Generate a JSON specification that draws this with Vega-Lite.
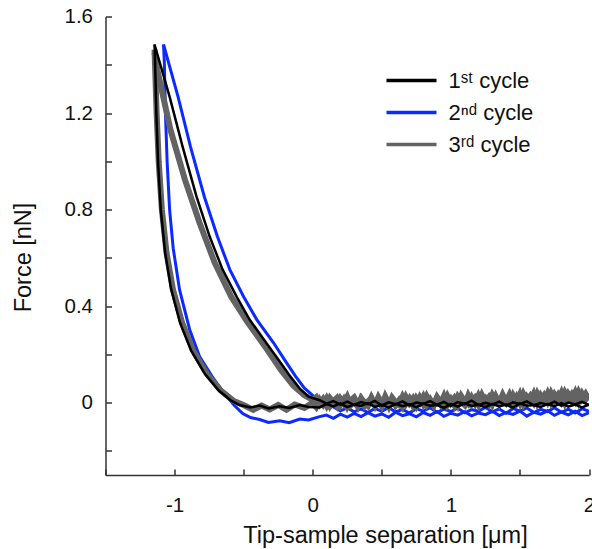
{
  "$schema": "https://vega.github.io/schema/vega-lite/v6.json",
  "autosize": "none",
  "width": 483.5,
  "height": 458.5,
  "padding": {"left": 105.5, "top": 16.5, "right": 3, "bottom": 74},
  "background": "white",
  "config": {
    "view": {"stroke": null},
    "font": "Liberation Sans",
    "axis": {
      "grid": false,
      "domainColor": "#333333",
      "domainWidth": 1.5,
      "tickColor": "#333333",
      "tickWidth": 1.5,
      "labelColor": "#111111",
      "titleColor": "#111111",
      "labelFont": "Liberation Sans",
      "titleFont": "Liberation Sans",
      "labelFontSize": 20.5,
      "titleFontSize": 23.5,
      "titleFontWeight": "normal"
    },
    "legend": {"labelFont": "Liberation Sans"}
  },
  "data": {"values": [
    {"c":"1","b":"a","x":-1.145,"y":1.484},{"c":"1","b":"a","x":-1.036,"y":1.268},{"c":"1","b":"a","x":-0.942,"y":1.061},{"c":"1","b":"a","x":-0.841,"y":0.854},{"c":"1","b":"a","x":-0.746,"y":0.688},{"c":"1","b":"a","x":-0.652,"y":0.551},{"c":"1","b":"a","x":-0.551,"y":0.439},{"c":"1","b":"a","x":-0.457,"y":0.344},{"c":"1","b":"a","x":-0.333,"y":0.245},{"c":"1","b":"a","x":-0.239,"y":0.17},{"c":"1","b":"a","x":-0.167,"y":0.112},{"c":"1","b":"a","x":-0.094,"y":0.058},{"c":"1","b":"a","x":-0.03,"y":0.025},
    {"c":"1","b":"a","x":0.05,"y":0.010},{"c":"1","b":"a","x":0.10,"y":-0.004},{"c":"1","b":"a","x":0.15,"y":0.006},{"c":"1","b":"a","x":0.20,"y":-0.008},{"c":"1","b":"a","x":0.25,"y":0.004},{"c":"1","b":"a","x":0.30,"y":-0.010},{"c":"1","b":"a","x":0.35,"y":0.002},{"c":"1","b":"a","x":0.40,"y":-0.006},{"c":"1","b":"a","x":0.45,"y":0.007},{"c":"1","b":"a","x":0.50,"y":-0.012},{"c":"1","b":"a","x":0.55,"y":0.001},{"c":"1","b":"a","x":0.60,"y":-0.007},{"c":"1","b":"a","x":0.65,"y":0.005},{"c":"1","b":"a","x":0.70,"y":-0.011},{"c":"1","b":"a","x":0.75,"y":0.000},{"c":"1","b":"a","x":0.80,"y":-0.005},{"c":"1","b":"a","x":0.85,"y":0.006},{"c":"1","b":"a","x":0.90,"y":-0.009},{"c":"1","b":"a","x":0.95,"y":0.003},{"c":"1","b":"a","x":1.00,"y":-0.013},{"c":"1","b":"a","x":1.05,"y":0.002},{"c":"1","b":"a","x":1.10,"y":-0.006},{"c":"1","b":"a","x":1.15,"y":0.008},{"c":"1","b":"a","x":1.20,"y":-0.010},{"c":"1","b":"a","x":1.25,"y":-0.001},{"c":"1","b":"a","x":1.30,"y":-0.008},{"c":"1","b":"a","x":1.35,"y":0.004},{"c":"1","b":"a","x":1.40,"y":-0.012},{"c":"1","b":"a","x":1.45,"y":0.001},{"c":"1","b":"a","x":1.50,"y":-0.006},{"c":"1","b":"a","x":1.55,"y":0.005},{"c":"1","b":"a","x":1.60,"y":-0.011},{"c":"1","b":"a","x":1.65,"y":-0.002},{"c":"1","b":"a","x":1.70,"y":-0.009},{"c":"1","b":"a","x":1.75,"y":0.004},{"c":"1","b":"a","x":1.80,"y":-0.013},{"c":"1","b":"a","x":1.85,"y":0.000},{"c":"1","b":"a","x":1.90,"y":-0.008},{"c":"1","b":"a","x":1.95,"y":0.003},{"c":"1","b":"a","x":2.00,"y":-0.010},

    {"c":"1","b":"r","x":-1.145,"y":1.484},{"c":"1","b":"r","x":-1.141,"y":1.409},{"c":"1","b":"r","x":-1.132,"y":1.20},{"c":"1","b":"r","x":-1.120,"y":1.0},{"c":"1","b":"r","x":-1.100,"y":0.80},{"c":"1","b":"r","x":-1.068,"y":0.620},{"c":"1","b":"r","x":-1.025,"y":0.470},{"c":"1","b":"r","x":-0.960,"y":0.330},{"c":"1","b":"r","x":-0.880,"y":0.215},{"c":"1","b":"r","x":-0.780,"y":0.118},{"c":"1","b":"r","x":-0.680,"y":0.050},{"c":"1","b":"r","x":-0.590,"y":0.008},{"c":"1","b":"r","x":-0.529,"y":-0.010},{"c":"1","b":"r","x":-0.45,"y":-0.020},{"c":"1","b":"r","x":-0.384,"y":-0.012},{"c":"1","b":"r","x":-0.32,"y":-0.024},{"c":"1","b":"r","x":-0.239,"y":-0.015},{"c":"1","b":"r","x":-0.17,"y":-0.022},{"c":"1","b":"r","x":-0.094,"y":-0.010},{"c":"1","b":"r","x":-0.03,"y":-0.018},
    {"c":"1","b":"r","x":0.05,"y":-0.020},{"c":"1","b":"r","x":0.10,"y":-0.006},{"c":"1","b":"r","x":0.15,"y":-0.016},{"c":"1","b":"r","x":0.20,"y":-0.003},{"c":"1","b":"r","x":0.25,"y":-0.019},{"c":"1","b":"r","x":0.30,"y":-0.008},{"c":"1","b":"r","x":0.35,"y":-0.014},{"c":"1","b":"r","x":0.40,"y":-0.002},{"c":"1","b":"r","x":0.45,"y":-0.018},{"c":"1","b":"r","x":0.50,"y":-0.009},{"c":"1","b":"r","x":0.55,"y":-0.021},{"c":"1","b":"r","x":0.60,"y":-0.005},{"c":"1","b":"r","x":0.65,"y":-0.015},{"c":"1","b":"r","x":0.70,"y":-0.007},{"c":"1","b":"r","x":0.75,"y":-0.020},{"c":"1","b":"r","x":0.80,"y":-0.004},{"c":"1","b":"r","x":0.85,"y":-0.013},{"c":"1","b":"r","x":0.90,"y":-0.010},{"c":"1","b":"r","x":0.95,"y":-0.022},{"c":"1","b":"r","x":1.00,"y":-0.006},{"c":"1","b":"r","x":1.05,"y":-0.017},{"c":"1","b":"r","x":1.10,"y":-0.003},{"c":"1","b":"r","x":1.15,"y":-0.014},{"c":"1","b":"r","x":1.20,"y":-0.009},{"c":"1","b":"r","x":1.25,"y":-0.019},{"c":"1","b":"r","x":1.30,"y":-0.005},{"c":"1","b":"r","x":1.35,"y":-0.016},{"c":"1","b":"r","x":1.40,"y":-0.008},{"c":"1","b":"r","x":1.45,"y":-0.021},{"c":"1","b":"r","x":1.50,"y":-0.004},{"c":"1","b":"r","x":1.55,"y":-0.013},{"c":"1","b":"r","x":1.60,"y":-0.010},{"c":"1","b":"r","x":1.65,"y":-0.018},{"c":"1","b":"r","x":1.70,"y":-0.006},{"c":"1","b":"r","x":1.75,"y":-0.015},{"c":"1","b":"r","x":1.80,"y":-0.002},{"c":"1","b":"r","x":1.85,"y":-0.017},{"c":"1","b":"r","x":1.90,"y":-0.008},{"c":"1","b":"r","x":1.95,"y":-0.020},{"c":"1","b":"r","x":2.00,"y":-0.009},

    {"c":"2","b":"a","x":-1.080,"y":1.484},{"c":"2","b":"a","x":-0.975,"y":1.268},{"c":"2","b":"a","x":-0.885,"y":1.061},{"c":"2","b":"a","x":-0.785,"y":0.854},{"c":"2","b":"a","x":-0.69,"y":0.688},{"c":"2","b":"a","x":-0.60,"y":0.551},{"c":"2","b":"a","x":-0.50,"y":0.439},{"c":"2","b":"a","x":-0.405,"y":0.344},{"c":"2","b":"a","x":-0.285,"y":0.249},{"c":"2","b":"a","x":-0.195,"y":0.17},{"c":"2","b":"a","x":-0.125,"y":0.11},{"c":"2","b":"a","x":-0.06,"y":0.06},{"c":"2","b":"a","x":0.0,"y":0.03},{"c":"2","b":"a","x":0.06,"y":0.005},{"c":"2","b":"a","x":0.12,"y":-0.01},
    {"c":"2","b":"a","x":0.15,"y":-0.018},{"c":"2","b":"a","x":0.20,"y":-0.034},{"c":"2","b":"a","x":0.25,"y":-0.022},{"c":"2","b":"a","x":0.30,"y":-0.038},{"c":"2","b":"a","x":0.35,"y":-0.026},{"c":"2","b":"a","x":0.40,"y":-0.041},{"c":"2","b":"a","x":0.45,"y":-0.024},{"c":"2","b":"a","x":0.50,"y":-0.036},{"c":"2","b":"a","x":0.55,"y":-0.020},{"c":"2","b":"a","x":0.60,"y":-0.039},{"c":"2","b":"a","x":0.65,"y":-0.028},{"c":"2","b":"a","x":0.70,"y":-0.043},{"c":"2","b":"a","x":0.75,"y":-0.025},{"c":"2","b":"a","x":0.80,"y":-0.035},{"c":"2","b":"a","x":0.85,"y":-0.021},{"c":"2","b":"a","x":0.90,"y":-0.040},{"c":"2","b":"a","x":0.95,"y":-0.027},{"c":"2","b":"a","x":1.00,"y":-0.037},{"c":"2","b":"a","x":1.05,"y":-0.023},{"c":"2","b":"a","x":1.10,"y":-0.042},{"c":"2","b":"a","x":1.15,"y":-0.029},{"c":"2","b":"a","x":1.20,"y":-0.036},{"c":"2","b":"a","x":1.25,"y":-0.019},{"c":"2","b":"a","x":1.30,"y":-0.038},{"c":"2","b":"a","x":1.35,"y":-0.026},{"c":"2","b":"a","x":1.40,"y":-0.044},{"c":"2","b":"a","x":1.45,"y":-0.024},{"c":"2","b":"a","x":1.50,"y":-0.035},{"c":"2","b":"a","x":1.55,"y":-0.022},{"c":"2","b":"a","x":1.60,"y":-0.041},{"c":"2","b":"a","x":1.65,"y":-0.028},{"c":"2","b":"a","x":1.70,"y":-0.037},{"c":"2","b":"a","x":1.75,"y":-0.021},{"c":"2","b":"a","x":1.80,"y":-0.040},{"c":"2","b":"a","x":1.85,"y":-0.027},{"c":"2","b":"a","x":1.90,"y":-0.043},{"c":"2","b":"a","x":1.95,"y":-0.025},{"c":"2","b":"a","x":2.00,"y":-0.036},

    {"c":"2","b":"r","x":-1.080,"y":1.484},{"c":"2","b":"r","x":-1.074,"y":1.409},{"c":"2","b":"r","x":-1.066,"y":1.20},{"c":"2","b":"r","x":-1.054,"y":1.0},{"c":"2","b":"r","x":-1.036,"y":0.80},{"c":"2","b":"r","x":-1.010,"y":0.640},{"c":"2","b":"r","x":-0.964,"y":0.468},{"c":"2","b":"r","x":-0.891,"y":0.303},{"c":"2","b":"r","x":-0.819,"y":0.191},{"c":"2","b":"r","x":-0.730,"y":0.110},{"c":"2","b":"r","x":-0.650,"y":0.045},{"c":"2","b":"r","x":-0.570,"y":-0.010},{"c":"2","b":"r","x":-0.507,"y":-0.045},{"c":"2","b":"r","x":-0.45,"y":-0.062},{"c":"2","b":"r","x":-0.384,"y":-0.070},{"c":"2","b":"r","x":-0.32,"y":-0.082},{"c":"2","b":"r","x":-0.239,"y":-0.075},{"c":"2","b":"r","x":-0.17,"y":-0.083},{"c":"2","b":"r","x":-0.094,"y":-0.068},{"c":"2","b":"r","x":-0.03,"y":-0.072},{"c":"2","b":"r","x":0.05,"y":-0.058},
    {"c":"2","b":"r","x":0.10,"y":-0.052},{"c":"2","b":"r","x":0.15,"y":-0.065},{"c":"2","b":"r","x":0.20,"y":-0.048},{"c":"2","b":"r","x":0.25,"y":-0.060},{"c":"2","b":"r","x":0.30,"y":-0.045},{"c":"2","b":"r","x":0.35,"y":-0.058},{"c":"2","b":"r","x":0.40,"y":-0.042},{"c":"2","b":"r","x":0.45,"y":-0.056},{"c":"2","b":"r","x":0.50,"y":-0.047},{"c":"2","b":"r","x":0.55,"y":-0.061},{"c":"2","b":"r","x":0.60,"y":-0.040},{"c":"2","b":"r","x":0.65,"y":-0.054},{"c":"2","b":"r","x":0.70,"y":-0.046},{"c":"2","b":"r","x":0.75,"y":-0.059},{"c":"2","b":"r","x":0.80,"y":-0.041},{"c":"2","b":"r","x":0.85,"y":-0.053},{"c":"2","b":"r","x":0.90,"y":-0.037},{"c":"2","b":"r","x":0.95,"y":-0.057},{"c":"2","b":"r","x":1.00,"y":-0.044},{"c":"2","b":"r","x":1.05,"y":-0.052},{"c":"2","b":"r","x":1.10,"y":-0.038},{"c":"2","b":"r","x":1.15,"y":-0.055},{"c":"2","b":"r","x":1.20,"y":-0.043},{"c":"2","b":"r","x":1.25,"y":-0.050},{"c":"2","b":"r","x":1.30,"y":-0.036},{"c":"2","b":"r","x":1.35,"y":-0.054},{"c":"2","b":"r","x":1.40,"y":-0.041},{"c":"2","b":"r","x":1.45,"y":-0.049},{"c":"2","b":"r","x":1.50,"y":-0.035},{"c":"2","b":"r","x":1.55,"y":-0.056},{"c":"2","b":"r","x":1.60,"y":-0.040},{"c":"2","b":"r","x":1.65,"y":-0.048},{"c":"2","b":"r","x":1.70,"y":-0.034},{"c":"2","b":"r","x":1.75,"y":-0.053},{"c":"2","b":"r","x":1.80,"y":-0.039},{"c":"2","b":"r","x":1.85,"y":-0.051},{"c":"2","b":"r","x":1.90,"y":-0.036},{"c":"2","b":"r","x":1.95,"y":-0.054},{"c":"2","b":"r","x":2.00,"y":-0.042},

    {"c":"3","b":"a","x":-1.145,"y":1.45},{"c":"3","b":"a","x":-1.125,"y":1.380},{"c":"3","b":"a","x":-1.030,"y":1.131},{"c":"3","b":"a","x":-0.925,"y":0.924},{"c":"3","b":"a","x":-0.820,"y":0.746},{"c":"3","b":"a","x":-0.710,"y":0.580},{"c":"3","b":"a","x":-0.590,"y":0.439},{"c":"3","b":"a","x":-0.470,"y":0.332},{"c":"3","b":"a","x":-0.330,"y":0.220},{"c":"3","b":"a","x":-0.23,"y":0.135},{"c":"3","b":"a","x":-0.14,"y":0.07},{"c":"3","b":"a","x":-0.06,"y":0.03},{"c":"3","b":"a","x":0.0,"y":0.012},
    {"c":"3","b":"a","x":0.025,"y":0.022},{"c":"3","b":"a","x":0.05,"y":-0.006},{"c":"3","b":"a","x":0.075,"y":0.014},{"c":"3","b":"a","x":0.10,"y":-0.012},{"c":"3","b":"a","x":0.125,"y":0.019},{"c":"3","b":"a","x":0.15,"y":0.002},{"c":"3","b":"a","x":0.175,"y":-0.015},{"c":"3","b":"a","x":0.20,"y":0.016},{"c":"3","b":"a","x":0.225,"y":-0.004},{"c":"3","b":"a","x":0.25,"y":0.024},{"c":"3","b":"a","x":0.275,"y":-0.010},{"c":"3","b":"a","x":0.30,"y":0.008},{"c":"3","b":"a","x":0.325,"y":-0.016},{"c":"3","b":"a","x":0.35,"y":0.018},{"c":"3","b":"a","x":0.375,"y":0.001},{"c":"3","b":"a","x":0.40,"y":-0.013},{"c":"3","b":"a","x":0.425,"y":0.021},{"c":"3","b":"a","x":0.45,"y":-0.007},{"c":"3","b":"a","x":0.475,"y":0.012},{"c":"3","b":"a","x":0.50,"y":-0.014},{"c":"3","b":"a","x":0.525,"y":0.025},{"c":"3","b":"a","x":0.55,"y":-0.003},{"c":"3","b":"a","x":0.575,"y":0.015},{"c":"3","b":"a","x":0.60,"y":-0.011},{"c":"3","b":"a","x":0.625,"y":0.009},{"c":"3","b":"a","x":0.65,"y":-0.015},{"c":"3","b":"a","x":0.675,"y":0.023},{"c":"3","b":"a","x":0.70,"y":-0.002},{"c":"3","b":"a","x":0.725,"y":0.017},{"c":"3","b":"a","x":0.75,"y":-0.012},{"c":"3","b":"a","x":0.775,"y":0.020},{"c":"3","b":"a","x":0.80,"y":-0.006},{"c":"3","b":"a","x":0.825,"y":0.026},{"c":"3","b":"a","x":0.85,"y":0.000},{"c":"3","b":"a","x":0.875,"y":-0.013},{"c":"3","b":"a","x":0.90,"y":0.019},{"c":"3","b":"a","x":0.925,"y":-0.005},{"c":"3","b":"a","x":0.95,"y":0.027},{"c":"3","b":"a","x":0.975,"y":-0.009},{"c":"3","b":"a","x":1.00,"y":0.014},{"c":"3","b":"a","x":1.025,"y":-0.011},{"c":"3","b":"a","x":1.05,"y":0.024},{"c":"3","b":"a","x":1.075,"y":0.003},{"c":"3","b":"a","x":1.10,"y":-0.010},{"c":"3","b":"a","x":1.125,"y":0.028},{"c":"3","b":"a","x":1.15,"y":-0.004},{"c":"3","b":"a","x":1.175,"y":0.018},{"c":"3","b":"a","x":1.20,"y":-0.008},{"c":"3","b":"a","x":1.225,"y":0.030},{"c":"3","b":"a","x":1.25,"y":0.001},{"c":"3","b":"a","x":1.275,"y":0.021},{"c":"3","b":"a","x":1.30,"y":-0.007},{"c":"3","b":"a","x":1.325,"y":0.026},{"c":"3","b":"a","x":1.35,"y":-0.002},{"c":"3","b":"a","x":1.375,"y":0.032},{"c":"3","b":"a","x":1.40,"y":0.004},{"c":"3","b":"a","x":1.425,"y":-0.006},{"c":"3","b":"a","x":1.45,"y":0.029},{"c":"3","b":"a","x":1.475,"y":0.002},{"c":"3","b":"a","x":1.50,"y":0.034},{"c":"3","b":"a","x":1.525,"y":-0.004},{"c":"3","b":"a","x":1.55,"y":0.024},{"c":"3","b":"a","x":1.575,"y":0.006},{"c":"3","b":"a","x":1.60,"y":0.036},{"c":"3","b":"a","x":1.625,"y":-0.001},{"c":"3","b":"a","x":1.65,"y":0.030},{"c":"3","b":"a","x":1.675,"y":0.008},{"c":"3","b":"a","x":1.70,"y":0.038},{"c":"3","b":"a","x":1.725,"y":0.003},{"c":"3","b":"a","x":1.75,"y":0.033},{"c":"3","b":"a","x":1.775,"y":0.010},{"c":"3","b":"a","x":1.80,"y":0.040},{"c":"3","b":"a","x":1.825,"y":0.001},{"c":"3","b":"a","x":1.85,"y":0.035},{"c":"3","b":"a","x":1.875,"y":0.012},{"c":"3","b":"a","x":1.90,"y":0.042},{"c":"3","b":"a","x":1.925,"y":0.005},{"c":"3","b":"a","x":1.95,"y":0.037},{"c":"3","b":"a","x":1.975,"y":0.014},{"c":"3","b":"a","x":2.00,"y":0.039},

    {"c":"3","b":"r","x":-1.145,"y":1.463},{"c":"3","b":"r","x":-1.130,"y":1.20},{"c":"3","b":"r","x":-1.115,"y":1.0},{"c":"3","b":"r","x":-1.092,"y":0.80},{"c":"3","b":"r","x":-1.058,"y":0.620},{"c":"3","b":"r","x":-1.012,"y":0.470},{"c":"3","b":"r","x":-0.945,"y":0.330},{"c":"3","b":"r","x":-0.865,"y":0.215},{"c":"3","b":"r","x":-0.765,"y":0.118},{"c":"3","b":"r","x":-0.665,"y":0.050},{"c":"3","b":"r","x":-0.575,"y":0.008},{"c":"3","b":"r","x":-0.493,"y":-0.012},{"c":"3","b":"r","x":-0.43,"y":-0.030},{"c":"3","b":"r","x":-0.37,"y":-0.012},{"c":"3","b":"r","x":-0.312,"y":-0.028},{"c":"3","b":"r","x":-0.25,"y":-0.010},{"c":"3","b":"r","x":-0.19,"y":-0.030},{"c":"3","b":"r","x":-0.13,"y":-0.008},{"c":"3","b":"r","x":-0.06,"y":-0.022},{"c":"3","b":"r","x":0.0,"y":0.0},
    {"c":"3","b":"r","x":0.025,"y":-0.018},{"c":"3","b":"r","x":0.05,"y":0.012},{"c":"3","b":"r","x":0.075,"y":-0.008},{"c":"3","b":"r","x":0.10,"y":0.017},{"c":"3","b":"r","x":0.125,"y":-0.014},{"c":"3","b":"r","x":0.15,"y":0.006},{"c":"3","b":"r","x":0.175,"y":0.019},{"c":"3","b":"r","x":0.20,"y":-0.010},{"c":"3","b":"r","x":0.225,"y":0.013},{"c":"3","b":"r","x":0.25,"y":-0.017},{"c":"3","b":"r","x":0.275,"y":0.009},{"c":"3","b":"r","x":0.30,"y":0.021},{"c":"3","b":"r","x":0.325,"y":-0.006},{"c":"3","b":"r","x":0.35,"y":0.015},{"c":"3","b":"r","x":0.375,"y":-0.013},{"c":"3","b":"r","x":0.40,"y":0.004},{"c":"3","b":"r","x":0.425,"y":0.018},{"c":"3","b":"r","x":0.45,"y":-0.011},{"c":"3","b":"r","x":0.475,"y":0.022},{"c":"3","b":"r","x":0.50,"y":-0.003},{"c":"3","b":"r","x":0.525,"y":0.011},{"c":"3","b":"r","x":0.55,"y":-0.016},{"c":"3","b":"r","x":0.575,"y":0.020},{"c":"3","b":"r","x":0.60,"y":0.002},{"c":"3","b":"r","x":0.625,"y":-0.009},{"c":"3","b":"r","x":0.65,"y":0.024},{"c":"3","b":"r","x":0.675,"y":-0.005},{"c":"3","b":"r","x":0.70,"y":0.016},{"c":"3","b":"r","x":0.725,"y":-0.012},{"c":"3","b":"r","x":0.75,"y":0.019},{"c":"3","b":"r","x":0.775,"y":0.000},{"c":"3","b":"r","x":0.80,"y":0.025},{"c":"3","b":"r","x":0.825,"y":-0.008},{"c":"3","b":"r","x":0.85,"y":0.013},{"c":"3","b":"r","x":0.875,"y":-0.011},{"c":"3","b":"r","x":0.90,"y":0.023},{"c":"3","b":"r","x":0.925,"y":0.003},{"c":"3","b":"r","x":0.95,"y":-0.007},{"c":"3","b":"r","x":0.975,"y":0.026},{"c":"3","b":"r","x":1.00,"y":-0.002},{"c":"3","b":"r","x":1.025,"y":0.018},{"c":"3","b":"r","x":1.05,"y":-0.010},{"c":"3","b":"r","x":1.075,"y":0.027},{"c":"3","b":"r","x":1.10,"y":0.005},{"c":"3","b":"r","x":1.125,"y":-0.006},{"c":"3","b":"r","x":1.15,"y":0.022},{"c":"3","b":"r","x":1.175,"y":-0.003},{"c":"3","b":"r","x":1.20,"y":0.029},{"c":"3","b":"r","x":1.225,"y":0.001},{"c":"3","b":"r","x":1.25,"y":0.017},{"c":"3","b":"r","x":1.275,"y":-0.005},{"c":"3","b":"r","x":1.30,"y":0.031},{"c":"3","b":"r","x":1.325,"y":0.006},{"c":"3","b":"r","x":1.35,"y":-0.002},{"c":"3","b":"r","x":1.375,"y":0.028},{"c":"3","b":"r","x":1.40,"y":0.003},{"c":"3","b":"r","x":1.425,"y":0.033},{"c":"3","b":"r","x":1.45,"y":0.000},{"c":"3","b":"r","x":1.475,"y":0.024},{"c":"3","b":"r","x":1.50,"y":-0.003},{"c":"3","b":"r","x":1.525,"y":0.035},{"c":"3","b":"r","x":1.55,"y":0.007},{"c":"3","b":"r","x":1.575,"y":0.027},{"c":"3","b":"r","x":1.60,"y":0.002},{"c":"3","b":"r","x":1.625,"y":0.037},{"c":"3","b":"r","x":1.65,"y":0.009},{"c":"3","b":"r","x":1.675,"y":0.030},{"c":"3","b":"r","x":1.70,"y":0.004},{"c":"3","b":"r","x":1.725,"y":0.039},{"c":"3","b":"r","x":1.75,"y":0.011},{"c":"3","b":"r","x":1.775,"y":0.032},{"c":"3","b":"r","x":1.80,"y":0.006},{"c":"3","b":"r","x":1.825,"y":0.041},{"c":"3","b":"r","x":1.85,"y":0.013},{"c":"3","b":"r","x":1.875,"y":0.034},{"c":"3","b":"r","x":1.90,"y":0.008},{"c":"3","b":"r","x":1.925,"y":0.043},{"c":"3","b":"r","x":1.95,"y":0.015},{"c":"3","b":"r","x":1.975,"y":0.036},{"c":"3","b":"r","x":2.00,"y":0.010}
  ]},
  "encoding": {
    "x": {
      "field": "x", "type": "quantitative",
      "scale": {"domain": [-1.5, 2], "nice": false, "zero": false},
      "axis": {
        "values": [-1.5, -1, -0.5, 0, 0.5, 1, 1.5, 2],
        "labelExpr": "datum.value % 1 === 0 ? '' + datum.value : ''",
        "tickSize": -6,
        "labelPadding": 26,
        "labelFlush": false,
        "title": "Tip-sample separation [μm]",
        "titleX": 279.5,
        "titleY": 67,
        "titleAlign": "center",
        "titleBaseline": "alphabetic"
      }
    },
    "y": {
      "field": "y", "type": "quantitative",
      "scale": {"domain": [-0.3, 1.6], "nice": false, "zero": false},
      "axis": {
        "values": [-0.2, 0, 0.2, 0.4, 0.6, 0.8, 1.0, 1.2, 1.4, 1.6],
        "labelExpr": "indexof(['0','0.4','0.8','1.2','1.6'], '' + datum.value) >= 0 ? '' + datum.value : ''",
        "tickSize": -6,
        "labelPadding": 19,
        "labelFlush": false,
        "title": "Force [nN]",
        "titleX": -82,
        "titleY": 240.5,
        "titleAngle": 270,
        "titleAlign": "center",
        "titleBaseline": "middle"
      }
    },
    "color": {
      "field": "c", "type": "nominal",
      "scale": {"domain": ["1", "2", "3"], "range": ["#000000", "#0a2aff", "#636363"]},
      "legend": {
        "orient": "none",
        "legendX": 295,
        "legendY": 53,
        "title": null,
        "symbolType": "M-3,0H3",
        "symbolSize": 278,
        "symbolStrokeWidth": 3.5,
        "labelFontSize": 22,
        "labelColor": "#111111",
        "labelOffset": 26,
        "rowPadding": 10,
        "labelExpr": "datum.value == '1' ? '1ˢᵗ cycle' : datum.value == '2' ? '2ⁿᵈ cycle' : '3ʳᵈ cycle'"
      }
    },
    "detail": {"field": "b", "type": "nominal"}
  },
  "layer": [
    {"transform": [{"filter": "datum.c == '2'"}], "mark": {"type": "line", "strokeWidth": 3, "clip": true}},
    {"transform": [{"filter": "datum.c == '3'"}], "mark": {"type": "line", "strokeWidth": 6, "clip": true}},
    {"transform": [{"filter": "datum.c == '1'"}], "mark": {"type": "line", "strokeWidth": 2.5, "clip": true}}
  ]
}
